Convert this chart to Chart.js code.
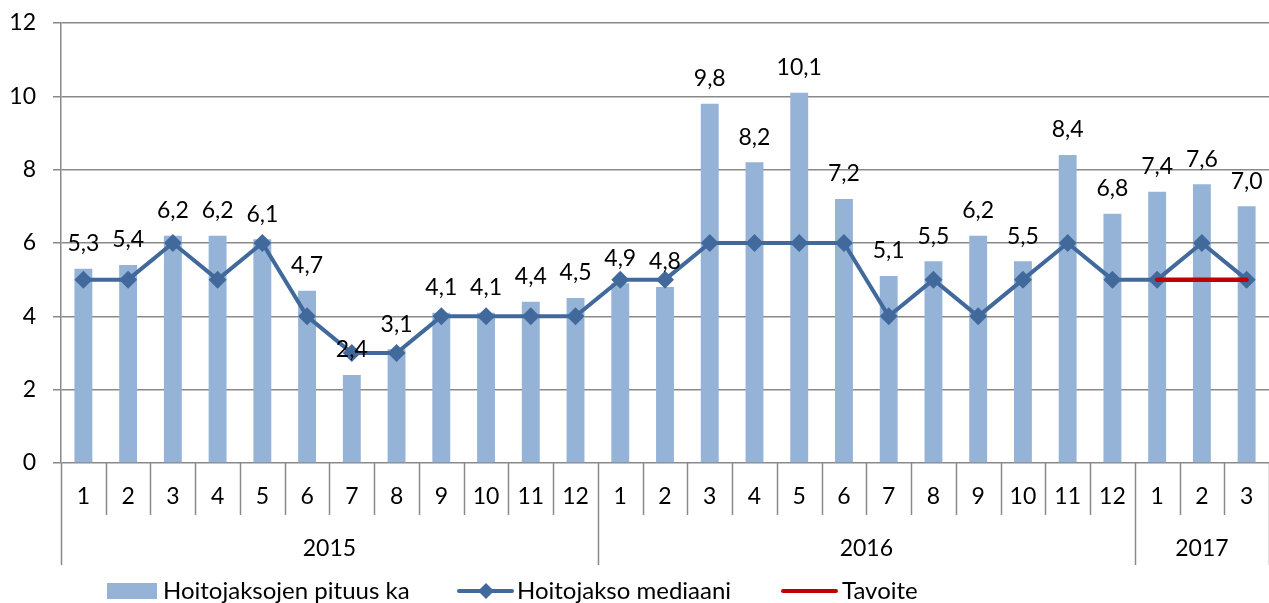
<!DOCTYPE html>
<html>
<head>
<meta charset="utf-8">
<script src="https://cdn.jsdelivr.net/npm/chart.js@4.4.0/dist/chart.umd.min.js"></script>
<style>
  html, body { margin: 0; padding: 0; background: #fff; overflow: hidden; }
  #wrap { width: 1269px; height: 603px; }
</style>
</head>
<body>
<div id="wrap"><canvas id="chart" width="1269" height="603"></canvas></div>
<script>
// ── Data ─────────────────────────────────────────────────────────────────
const MONTHS      = ['1','2','3','4','5','6','7','8','9','10','11','12',
                     '1','2','3','4','5','6','7','8','9','10','11','12',
                     '1','2','3'];
const YEAR_LABELS = ['2015', '2016', '2017'];
const YEAR_SPANS  = [12, 12, 3];
const AVG_LENGTH  = [5.3, 5.4, 6.2, 6.2, 6.1, 4.7, 2.4, 3.1, 4.1, 4.1, 4.4, 4.5,
                     4.9, 4.8, 9.8, 8.2, 10.1, 7.2, 5.1, 5.5, 6.2, 5.5, 8.4, 6.8,
                     7.4, 7.6, 7.0];
const MEDIAN      = [5, 5, 6, 5, 6, 4, 3, 3, 4, 4, 4, 4,
                     5, 5, 6, 6, 6, 6, 4, 5, 4, 5, 6, 5,
                     5, 6, 5];
const TARGET      = [null, null, null, null, null, null, null, null, null, null, null, null,
                     null, null, null, null, null, null, null, null, null, null, null, null,
                     5, 5, 5];

// ── Styles ───────────────────────────────────────────────────────────────
const FONT       = 'Lato, Carlito, "Open Sans", sans-serif';
const FONT_SIZE  = 23;
const GRID       = '#898989';
const BAR_COL    = '#95b3d7';
const LINE_COL   = '#41699c';
const TARGET_COL = '#c00000';

const fmt = v => v.toFixed(1).replace('.', ',');

// ── Value labels above the bars ──────────────────────────────────────────
const barLabels = {
  id: 'barLabels',
  afterDatasetsDraw(chart) {
    const { ctx } = chart;
    const meta = chart.getDatasetMeta(2);
    ctx.save();
    ctx.font = FONT_SIZE + 'px ' + FONT;
    ctx.fillStyle = '#000';
    ctx.textAlign = 'center';
    ctx.textBaseline = 'middle';
    meta.data.forEach((bar, i) => {
      ctx.fillText(fmt(AVG_LENGTH[i]), bar.x, bar.y - 25);
    });
    ctx.restore();
  }
};

// ── Two-level category axis (month / year) and legend ────────────────────
const groupAxis = {
  id: 'groupAxis',
  afterDraw(chart) {
    const { ctx, chartArea: { left, right, bottom }, scales: { x } } = chart;
    const step = (right - left) / MONTHS.length;
    ctx.save();
    ctx.strokeStyle = GRID;
    ctx.lineWidth = 1.5;

    // month separators, longer at year boundaries
    const yearEdges = [0];
    YEAR_SPANS.reduce((acc, n) => { yearEdges.push(acc + n); return acc + n; }, 0);
    for (let i = 0; i <= MONTHS.length; i++) {
      const px = Math.round(x.getPixelForValue(Math.min(i, MONTHS.length - 1)) +
                 (i === MONTHS.length ? step / 2 : -step / 2)) + 0.5;
      const len = yearEdges.includes(i) ? 102 : 52;
      ctx.beginPath();
      ctx.moveTo(px, bottom);
      ctx.lineTo(px, bottom + len);
      ctx.stroke();
    }

    ctx.fillStyle = '#000';
    ctx.font = FONT_SIZE + 'px ' + FONT;
    ctx.textAlign = 'center';
    ctx.textBaseline = 'middle';
    MONTHS.forEach((m, i) => ctx.fillText(m, x.getPixelForValue(i), bottom + 34));

    let start = 0;
    YEAR_LABELS.forEach((yr, k) => {
      const end = start + YEAR_SPANS[k] - 1;
      const cx = (x.getPixelForValue(start) + x.getPixelForValue(end)) / 2;
      ctx.fillText(yr, cx, bottom + 86);
      start = end + 1;
    });

    // legend
    const ly = 591;
    ctx.font = '24px ' + FONT;
    ctx.textAlign = 'left';
    ctx.fillStyle = BAR_COL;
    ctx.fillRect(107, ly - 8, 50, 16);
    ctx.fillStyle = '#000';
    ctx.fillText('Hoitojaksojen pituus ka', 163, ly);

    ctx.strokeStyle = LINE_COL;
    ctx.lineWidth = 4;
    ctx.lineCap = 'round';
    ctx.beginPath(); ctx.moveTo(459, ly); ctx.lineTo(512, ly); ctx.stroke();
    ctx.fillStyle = LINE_COL;
    ctx.beginPath();
    ctx.moveTo(486, ly - 8); ctx.lineTo(494, ly); ctx.lineTo(486, ly + 8); ctx.lineTo(478, ly);
    ctx.closePath(); ctx.fill();
    ctx.fillStyle = '#000';
    ctx.fillText('Hoitojakso mediaani', 517, ly);

    ctx.strokeStyle = TARGET_COL;
    ctx.beginPath(); ctx.moveTo(783, ly); ctx.lineTo(836, ly); ctx.stroke();
    ctx.fillText('Tavoite', 842, ly);
    ctx.restore();
  }
};

// ── Chart ────────────────────────────────────────────────────────────────
new Chart(document.getElementById('chart'), {
  data: {
    labels: MONTHS,
    datasets: [
      {
        type: 'line',
        label: 'Tavoite',
        data: TARGET,
        borderColor: TARGET_COL,
        borderWidth: 4.5,
        borderCapStyle: 'round',
        pointRadius: 0,
        spanGaps: false,
        order: 0
      },
      {
        type: 'line',
        label: 'Hoitojakso mediaani',
        data: MEDIAN,
        borderColor: LINE_COL,
        backgroundColor: LINE_COL,
        borderWidth: 4,
        pointStyle: 'rectRot',
        pointRadius: 9,
        pointBorderWidth: 0,
        pointBackgroundColor: LINE_COL,
        tension: 0,
        order: 1
      },
      {
        type: 'bar',
        label: 'Hoitojaksojen pituus ka',
        data: AVG_LENGTH,
        backgroundColor: BAR_COL,
        categoryPercentage: 1,
        barPercentage: 0.4,
        order: 2
      }
    ]
  },
  options: {
    responsive: false,
    animation: false,
    devicePixelRatio: 1,
    layout: { autoPadding: false, padding: { top: 23, right: 0, bottom: 140, left: 0 } },
    plugins: {
      legend: { display: false },
      tooltip: { enabled: false }
    },
    scales: {
      x: { display: false, offset: true },
      y: {
        min: 0,
        max: 12,
        ticks: { stepSize: 2, color: '#000', font: { size: FONT_SIZE, family: FONT }, padding: 17 },
        grid: { color: GRID, lineWidth: 1.5, tickLength: 8 },
        border: { color: GRID, width: 1.5 },
        afterFit(scale) {
          scale.width = 61;
          scale.paddingTop = 0;
          scale.paddingBottom = 0;
        }
      }
    }
  },
  plugins: [barLabels, groupAxis]
});
</script>
</body>
</html>
